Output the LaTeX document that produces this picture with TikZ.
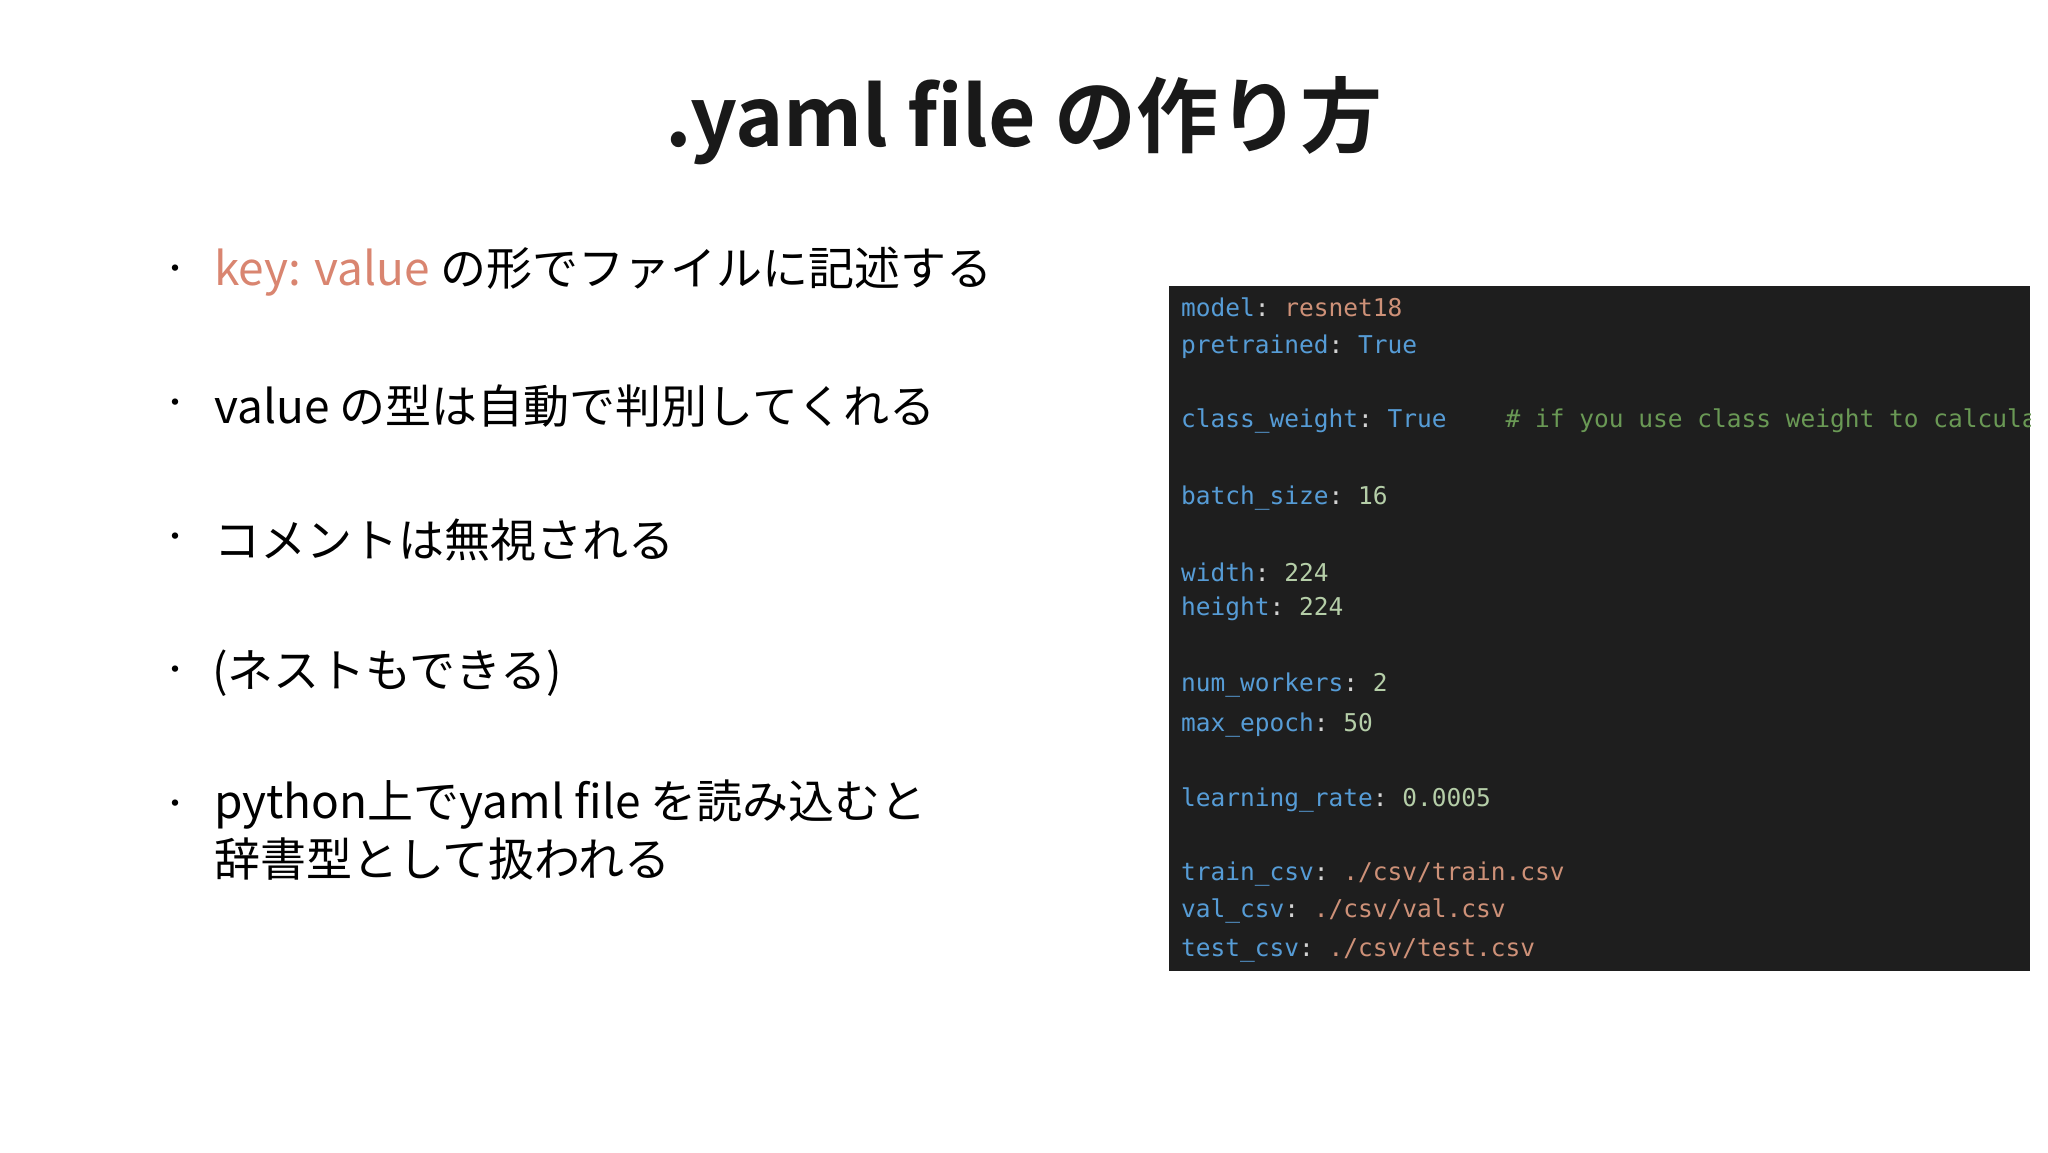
\documentclass[tikz,border=0pt]{standalone}
\usepackage{fontspec}
\newfontfamily\jp{Noto Sans CJK JP}
\newfontfamily\jpb{Noto Sans CJK JP Bold}
\newfontfamily\cmono{DejaVu Sans Mono}
\definecolor{cbg}{HTML}{1E1E1E}
\definecolor{ckey}{HTML}{569CD6}
\definecolor{cstr}{HTML}{CE9178}
\definecolor{cnum}{HTML}{B5CEA8}
\definecolor{ccom}{HTML}{6A9955}
\definecolor{cpunc}{HTML}{D4D4D4}
\definecolor{salmon}{HTML}{D98570}
\newcommand\us{\symbol{95}}
\begin{document}
\begin{tikzpicture}[x=1pt,y=-1pt,
  bul/.style={anchor=west,font=\jp\fontsize{46}{58}\selectfont,inner sep=0pt,align=left},
  dot/.style={anchor=center,font=\jp\fontsize{30}{30}\selectfont,inner sep=0pt},
  cl/.style={anchor=west,font=\cmono\fontsize{24.5}{30}\selectfont,inner sep=0pt,text=ckey}]
\useasboundingbox (0,0) rectangle (2048,1152);
\fill[white] (0,0) rectangle (2048,1152);
\node[font=\jpb\fontsize{82}{90}\selectfont,text=black!90] (title) at (1024,121) {.yaml file の作り方};
\foreach \y [count=\i] in {272,406,540,673,807} \node[dot] (d\i) at (175,\y) {・};
\node[bul] (b1) at (214,272) {\textcolor{salmon}{key: value} の形でファイルに記述する};
\node[bul] (b2) at (214,406) {value の型は自動で判別してくれる};
\node[bul] (b3) at (214,540) {コメントは無視される};
\node[bul] (b4) at (212,673) {(ネストもできる)};
\node[bul,anchor=north west] (b5) at (214,780) {python上でyaml file を読み込むと\\辞書型として扱われる};
\fill[cbg] (1169,286) rectangle (2030,971);
\begin{scope}
\clip (1169,286) rectangle (2030,971);
\newcommand\kv[3]{\node[cl] at (1181,#1) {#2\textcolor{cpunc}{:}~#3};}
\kv{307}{model}{\textcolor{cstr}{resnet18}}
\kv{347}{pretrained}{True}
\kv{421}{class\us weight}{True\ \ \ \ \textcolor{ccom}{\# if you use class weight to calculate loss}}
\kv{498}{batch\us size}{\textcolor{cnum}{16}}
\kv{572}{width}{\textcolor{cnum}{224}}
\kv{609}{height}{\textcolor{cnum}{224}}
\kv{685}{num\us workers}{\textcolor{cnum}{2}}
\kv{725}{max\us epoch}{\textcolor{cnum}{50}}
\kv{800}{learning\us rate}{\textcolor{cnum}{0.0005}}
\kv{874}{train\us csv}{\textcolor{cstr}{./csv/train.csv}}
\kv{911}{val\us csv}{\textcolor{cstr}{./csv/val.csv}}
\kv{950}{test\us csv}{\textcolor{cstr}{./csv/test.csv}}
\end{scope}
\end{tikzpicture}
\end{document}
